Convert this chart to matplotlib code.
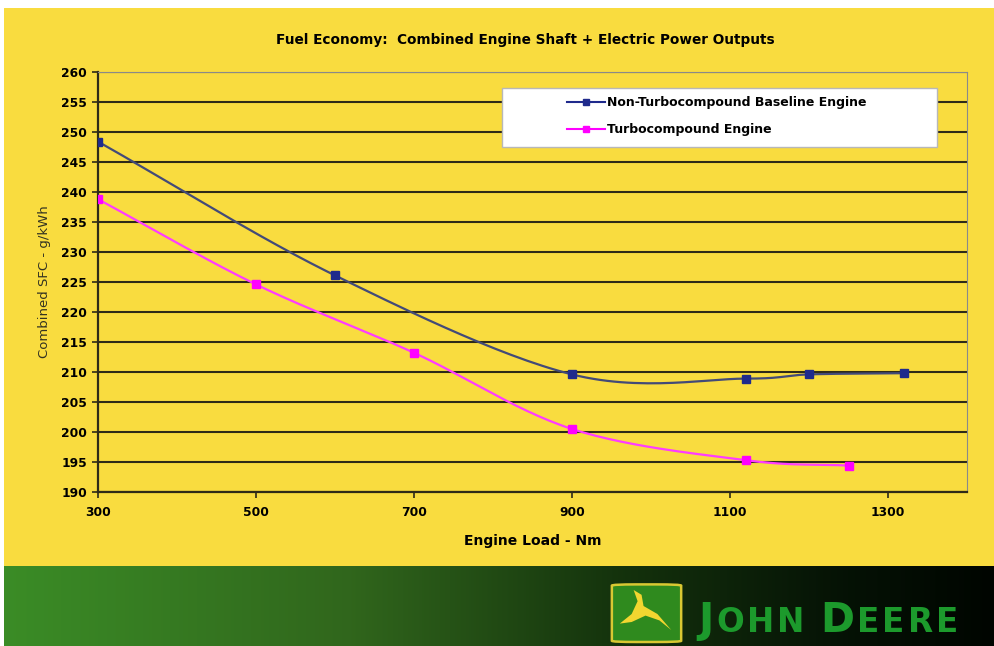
import numpy as np
import matplotlib
matplotlib.use("Agg")
import matplotlib.pyplot as plt
from matplotlib.patches import Rectangle, FancyBboxPatch, Polygon

# data
load_base = [300, 600, 900, 1120, 1200, 1320]
sfc_base = [248.4, 226.1, 209.6, 208.9, 209.6, 209.8]
load_turbo = [300, 500, 700, 900, 1120, 1250]
sfc_turbo = [238.8, 224.6, 213.2, 200.5, 195.3, 194.4]

x_ticks = [300, 500, 700, 900, 1100, 1300]
y_ticks = list(range(190, 261, 5))

YELLOW = '#f9dc3f'


def smooth(xs, ys, xr=1100.0, yr=70.0, n=30):
    # parametric Catmull-Rom through the points (like Excel smoothed lines)
    p = np.column_stack([np.array(xs) / xr, np.array(ys) / yr])
    p = np.vstack([p[0] - (p[1] - p[0]), p, p[-1] + (p[-1] - p[-2])])
    out = []
    for i in range(1, len(p) - 2):
        p0, p1, p2, p3 = p[i - 1], p[i], p[i + 1], p[i + 2]
        t = np.linspace(0, 1, n)[:, None]
        seg = 0.5 * ((2 * p1) + (-p0 + p2) * t + (2 * p0 - 5 * p1 + 4 * p2 - p3) * t ** 2
                     + (-p0 + 3 * p1 - 3 * p2 + p3) * t ** 3)
        out.append(seg)
    out = np.vstack(out)
    return out[:, 0] * xr, out[:, 1] * yr


fig = plt.figure(figsize=(9.94, 6.46), dpi=100)
fig.patch.set_facecolor('white')

# yellow slide background
bg = fig.add_axes([4 / 994, 1 - 566 / 646, 990 / 994, 558 / 646], zorder=-5)
bg.axis('off')
bg.add_patch(Rectangle((0, 0), 1, 1, transform=bg.transAxes, color=YELLOW))

# green band at the bottom
band = fig.add_axes([4 / 994, 0, 990 / 994, 80 / 646], zorder=-4)
grad = np.linspace(0, 1, 400)
r = np.interp(grad, [0, 0.35, 0.62, 0.85, 1], [0.23, 0.19, 0.08, 0.02, 0.0])
g = np.interp(grad, [0, 0.35, 0.62, 0.85, 1], [0.55, 0.40, 0.20, 0.07, 0.02])
b = np.interp(grad, [0, 0.35, 0.62, 0.85, 1], [0.15, 0.11, 0.05, 0.02, 0.0])
img = np.stack([r, g, b], axis=1)[None, :, :]
band.imshow(img, aspect='auto', extent=[0, 1, 0, 1])
band.set_xlim(0, 1)
band.set_ylim(0, 1)
band.axis('off')

# logo badge
band.add_patch(FancyBboxPatch((0.614, 0.05), 0.070, 0.72, boxstyle='round,pad=0,rounding_size=0.025',
                              facecolor='#2f8a1e', edgecolor='#d8c832', linewidth=1.8,
                              mutation_aspect=0.6))
deer = [(0.622, 0.28), (0.634, 0.40), (0.640, 0.56), (0.636, 0.70), (0.644, 0.64),
        (0.646, 0.50), (0.660, 0.40), (0.674, 0.20), (0.662, 0.32), (0.648, 0.38), (0.634, 0.30)]
band.add_patch(Polygon(deer, closed=True, facecolor='#f2d630', edgecolor='none'))

# JOHN DEERE wordmark, small caps placed letter by letter
fig.canvas.draw()
rend = fig.canvas.get_renderer()
bw = band.get_window_extent(renderer=rend).width
word = [('J', 29.5), ('O', 23.5), ('H', 23.5), ('N', 23.5), (' ', 20),
        ('D', 29.5), ('E', 23.5), ('E', 23.5), ('R', 23.5), ('E', 23.5)]
pieces = []
for ch, size in word:
    t = band.text(0, 0.175, ch, color='#1c9a2c', fontsize=size, fontweight='bold',
                  ha='left', va='baseline')
    pieces.append((t, t.get_window_extent(renderer=rend).width))
gap = (260 - sum(w for _, w in pieces)) / (len(pieces) - 1)
xpos = (698 - 4) / 990
for t, w in pieces:
    t.set_x(xpos)
    xpos += (w + gap) / bw

ax = fig.add_axes([98 / 994, 1 - 492 / 646, (967 - 98) / 994, 420 / 646])
ax.set_facecolor(YELLOW)

xb, yb = smooth(load_base, sfc_base)
xt, yt = smooth(load_turbo, sfc_turbo)
ax.plot(xb, yb, color='#434a78', lw=1.6, zorder=3)
ax.plot(load_base, sfc_base, ls='none', marker='s', ms=6, color='#1f2a8c', zorder=4)
ax.plot(xt, yt, color='#ff3cff', lw=1.6, zorder=3)
ax.plot(load_turbo, sfc_turbo, ls='none', marker='s', ms=6, color='#ff00ff', zorder=4)

ax.set_xlim(300, 1400)
ax.set_ylim(190, 260)
ax.set_xticks(x_ticks)
ax.set_yticks(y_ticks)
ax.yaxis.grid(True, color='#2e2a18', lw=1.5)
ax.set_axisbelow(True)

for lab in ax.get_xticklabels() + ax.get_yticklabels():
    lab.set_fontweight('bold')
    lab.set_fontsize(8.8)
ax.tick_params(axis='both', direction='out', length=4, width=1.2, color='#2e2a18', pad=6)
ax.tick_params(axis='y', pad=4)

ax.spines['left'].set_color('#2e2a18')
ax.spines['left'].set_linewidth(1.6)
ax.spines['bottom'].set_color('#2e2a18')
ax.spines['bottom'].set_linewidth(1.6)
ax.spines['top'].set_color('#8a8a8a')
ax.spines['right'].set_color('#8a8a8a')

ax.set_xlabel('Engine Load - Nm', fontsize=10, fontweight='bold', labelpad=11)
ax.set_ylabel('Combined SFC - g/kWh', fontsize=9.5, labelpad=7, color='#333322')

fig.text(0.528, 1 - 40 / 646, 'Fuel Economy:  Combined Engine Shaft + Electric Power Outputs',
         ha='center', va='center', fontsize=9.8, fontweight='bold')

# legend: white box plus frameless legend inside it
ax.add_patch(Rectangle(((502 - 98) / 869, 1 - (147 - 72) / 420), (937 - 502) / 869, 59 / 420,
                       transform=ax.transAxes, facecolor='white', edgecolor='#b8b8b8',
                       lw=1.0, zorder=9))
h1, = ax.plot([], [], color='#1f2a8c', marker='s', ms=5, lw=1.5)
h2, = ax.plot([], [], color='#ff00ff', marker='s', ms=5, lw=1.5)
leg = ax.legend([h1, h2], ['Non-Turbocompound Baseline Engine', 'Turbocompound Engine'],
                loc='upper left', bbox_to_anchor=((567 - 98) / 869, 1 - (96 - 72) / 420),
                frameon=False, prop={'size': 9, 'weight': 'bold'}, borderpad=0,
                labelspacing=1.15, handlelength=3.0, handletextpad=0.2, borderaxespad=0)
leg.set_zorder(10)

fig.savefig('out.png', dpi=100, facecolor=fig.get_facecolor())
